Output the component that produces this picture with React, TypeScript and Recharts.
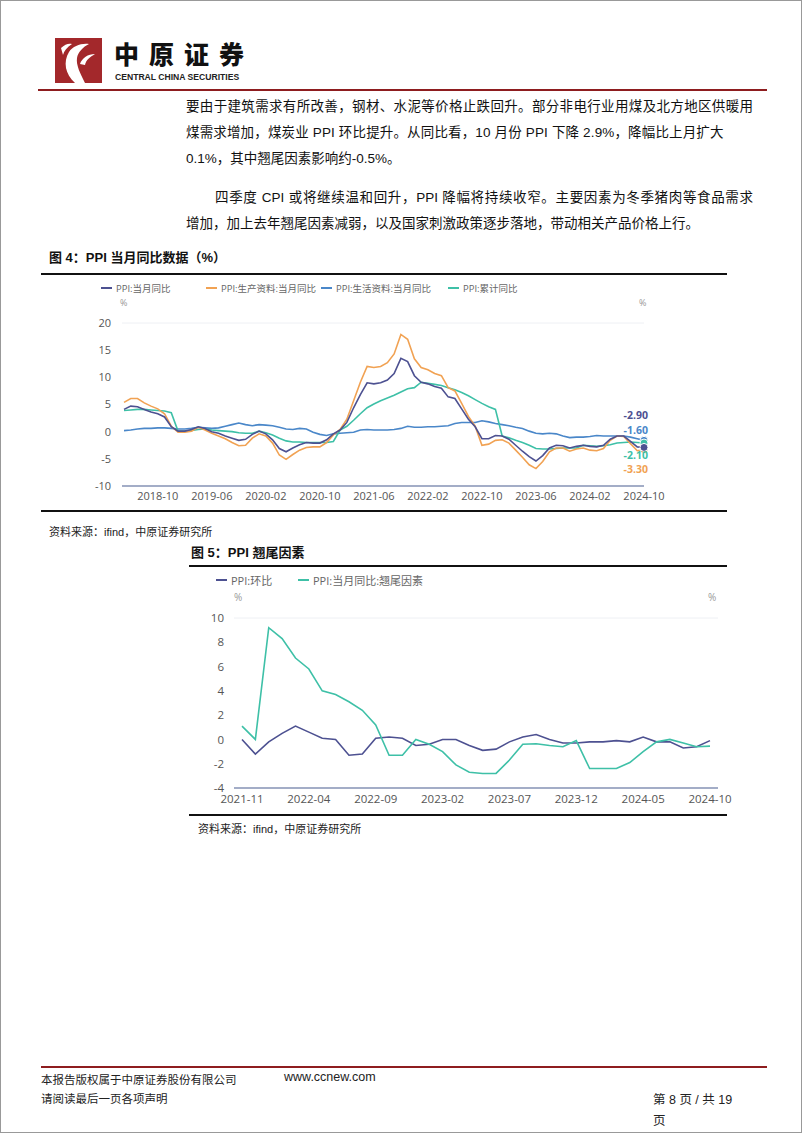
import React from 'react'
import { LineChart, Line, XAxis, YAxis, CartesianGrid } from 'recharts'

// 图4: PPI 当月同比, 2018-05 .. 2024-10
const months4: string[] = []
for (let y = 2018, m = 5; y < 2024 || (y === 2024 && m <= 10); m++) {
  if (m > 12) { m = 1; y++ }
  months4.push(`${y}-${String(m).padStart(2, '0')}`)
}
const ticks4 = ['2018-10', '2019-06', '2020-02', '2020-10', '2021-06', '2022-02', '2022-10', '2023-06', '2024-02', '2024-10']

const ppiYoy = [
  4.1, 4.7, 4.6, 4.1, 3.6, 3.3, 2.7, 0.9,
  0.1, 0.1, 0.4, 0.9, 0.6, 0.0, -0.3, -0.8, -1.2, -1.6, -1.4, -0.5,
  0.1, -0.4, -1.5, -3.1, -3.7, -3.0, -2.4, -2.0, -2.1, -2.1, -1.5, -0.4,
  0.3, 1.7, 4.4, 6.8, 9.0, 8.8, 9.0, 9.5, 10.7, 13.5, 12.9, 10.3,
  9.1, 8.8, 8.3, 8.0, 6.4, 6.1, 4.2, 2.3, 0.9, -1.3, -1.3, -0.7,
  -0.8, -1.4, -2.5, -3.6, -4.6, -5.4, -4.4, -3.0, -2.5, -2.6, -3.0, -2.7,
  -2.5, -2.7, -2.8, -2.5, -1.4, -0.8, -0.8, -1.8, -2.8, -2.9,
]
const producerYoy = [
  5.4, 6.1, 6.1, 5.3, 4.7, 4.2, 3.3, 1.0,
  -0.1, -0.1, 0.1, 0.8, 0.3, -0.3, -0.8, -1.3, -2.0, -2.6, -2.5, -1.2,
  -0.4, -0.8, -2.1, -4.3, -5.1, -4.2, -3.4, -2.9, -2.8, -2.8, -2.0, -0.6,
  0.4, 2.3, 5.7, 9.1, 12.0, 11.8, 12.0, 12.7, 14.3, 17.9, 17.0, 13.4,
  11.8, 11.4, 10.7, 10.3, 8.1, 7.5, 5.2, 2.8, 1.0, -2.5, -2.3, -1.6,
  -1.5, -2.1, -3.4, -4.7, -6.1, -6.8, -5.5, -3.7, -3.0, -3.0, -3.6, -3.2,
  -3.0, -3.4, -3.5, -3.1, -1.6, -0.8, -0.9, -2.2, -3.5, -3.3,
]
const consumerYoy = [
  0.2, 0.3, 0.5, 0.6, 0.6, 0.7, 0.7, 0.6,
  0.5, 0.5, 0.6, 0.8, 0.7, 0.6, 0.7, 1.0, 1.3, 1.6, 1.3, 1.1,
  1.3, 1.2, 1.1, 0.8, 0.5, 0.4, 0.6, 0.5, -0.1, -0.5, -0.7, -0.4,
  -0.3, -0.2, -0.1, 0.3, 0.4, 0.3, 0.3, 0.3, 0.4, 0.6, 1.0, 0.8,
  0.8, 0.9, 0.9, 1.0, 1.1, 1.5, 1.7, 1.7, 1.7, 2.0, 1.8, 1.5,
  1.3, 1.1, 0.8, 0.6, 0.1, -0.3, -0.4, -0.3, -0.4, -0.8, -1.1, -1.0,
  -1.0, -0.9, -0.7, -0.8, -0.8, -0.8, -0.8, -1.0, -1.3, -1.6,
]
const cumulativeYoy = [
  3.9, 4.0, 4.1, 4.1, 4.0, 3.9, 3.8, 3.5,
  0.1, 0.1, 0.2, 0.4, 0.5, 0.3, 0.2, 0.1, 0.0, -0.2, -0.3, -0.3,
  0.1, -0.2, -0.6, -1.2, -1.7, -1.9, -1.9, -2.0, -2.0, -2.0, -2.0, -1.8,
  0.3, 1.0, 2.1, 3.3, 4.4, 5.1, 5.7, 6.2, 6.7, 7.3, 7.9, 8.1,
  9.1, 8.9, 8.7, 8.5, 8.1, 7.7, 7.2, 6.6, 5.9, 5.2, 4.6, 4.1,
  -0.8, -1.1, -1.6, -2.0, -2.5, -3.1, -3.2, -3.2, -3.1, -3.0, -3.0, -3.0,
  -2.5, -2.6, -2.7, -2.6, -2.4, -2.1, -2.0, -1.9, -2.0, -2.1,
]

// 图5: PPI 翘尾因素, 2021-11 .. 2024-10
const months5: string[] = []
for (let y = 2021, m = 11; y < 2024 || (y === 2024 && m <= 10); m++) {
  if (m > 12) { m = 1; y++ }
  months5.push(`${y}-${String(m).padStart(2, '0')}`)
}
const ticks5 = ['2021-11', '2022-04', '2022-09', '2023-02', '2023-07', '2023-12', '2024-05', '2024-10']

const ppiMom = [
  0.0, -1.2,
  -0.2, 0.5, 1.1, 0.6, 0.1, 0.0, -1.3, -1.2, 0.1, 0.2, 0.1, -0.5,
  -0.4, 0.0, 0.0, -0.5, -0.9, -0.8, -0.2, 0.2, 0.4, 0.0, -0.3, -0.3,
  -0.2, -0.2, -0.1, -0.2, 0.2, -0.2, -0.2, -0.7, -0.6, -0.1,
]
const carryover = [
  1.1, 0.0,
  9.2, 8.3, 6.7, 5.8, 4.0, 3.7, 3.1, 2.4, 1.2, -1.3, -1.3, 0.0,
  -0.4, -1.0, -2.1, -2.7, -2.8, -2.8, -1.7, -0.4, -0.35, -0.5, -0.6, -0.1,
  -2.4, -2.4, -2.4, -1.9, -1.0, -0.2, 0.0, -0.3, -0.6, -0.55,
]

const data4 = months4.map((m, i) => ({
  month: m,
  ppi: ppiYoy[i],
  producer: producerYoy[i],
  consumer: consumerYoy[i],
  cumulative: cumulativeYoy[i],
}))
const data5 = months5.map((m, i) => ({ month: m, mom: ppiMom[i], carry: carryover[i] }))

const NAVY = '#4d5191'
const ORANGE = '#f1a253'
const BLUE = '#4a87c9'
const TEAL = '#3ec0a7'
const AXIS = '#8794b6'
const GRID = '#eef0f4'

const TEXT_FONT = '"Liberation Sans", Arial, "Noto Sans CJK SC", sans-serif'
const CHART_FONT = '"Open Sans", "Noto Sans CJK SC", sans-serif'

const last4 = data4.length - 1

function endDot(color: string) {
  return (p: any) =>
    p.index === last4 ? (
      <circle key={p.index} cx={p.cx} cy={p.cy} r={4} fill={color} stroke="#fff" strokeWidth={1} />
    ) : (
      <g key={p.index} />
    )
}

function endLabel(color: string, dy: number) {
  return (p: any) =>
    p.index === last4 ? (
      <text key={p.index} x={p.x + 4} y={p.y + dy} fill={color} fontSize={10.5} fontWeight={700}
        textAnchor="end" dominantBaseline="central" fontFamily={CHART_FONT}>
        {Number(p.value).toFixed(2)}
      </text>
    ) : (
      <g key={p.index} />
    )
}

function LegendItem({ x, y, color, label, size }: { x: number; y: number; color: string; label: string; size: number }) {
  return (
    <div style={{ position: 'absolute', left: x, top: y - size * 0.7, display: 'flex', alignItems: 'center', whiteSpace: 'nowrap', fontFamily: CHART_FONT, fontSize: size, color: '#666' }}>
      <span style={{ display: 'inline-block', width: 11, height: 2, background: color, marginRight: 4 }} />
      {label}
    </div>
  )
}

function Abs({ x, y, children, style }: { x: number; y: number; children: React.ReactNode; style?: React.CSSProperties }) {
  return <div style={{ position: 'absolute', left: x, top: y, whiteSpace: 'nowrap', ...style }}>{children}</div>
}

function Rule({ x, y, w, h, color }: { x: number; y: number; w: number; h: number; color: string }) {
  return <div style={{ position: 'absolute', left: x, top: y, width: w, height: h, background: color }} />
}

const tickStyle = { fill: '#555', fontSize: 11, fontFamily: CHART_FONT }

function Logo() {
  return (
    <svg style={{ position: 'absolute', left: 54, top: 37 }} width={47} height={45} viewBox="0 0 47 45">
      <rect x={0} y={0} width={47} height={45} fill="#a3282b" />
      <path d="M20 45 C10 36 8 24 14 14 C18 8 26 5 34 6 C28 9 23 14 22 20 C21 27 25 35 30 45 Z" fill="#fff" />
      <path d="M25 26 C27 20 33 16 40 16 C35 19 31 22 30 27 Z" fill="#fff" />
      <path d="M6 10 C10 6 14 5 17 6 C12 9 9 13 8 17 Z" fill="#fff" />
    </svg>
  )
}

export default function App() {
  const bodyText: React.CSSProperties = { fontFamily: TEXT_FONT, fontSize: 13.5, color: '#111' }
  const full: React.CSSProperties = { ...bodyText, width: 567, textAlign: 'justify', textAlignLast: 'justify' }
  return (
    <div style={{ position: 'relative', width: 800, height: 1131, border: '1px solid #999', background: '#fff', overflow: 'hidden' }}>
      <style>{`body{margin:0}`}</style>

      {/* header */}
      <Logo />
      <Abs x={113} y={39} style={{ fontFamily: '"Noto Sans CJK SC", sans-serif', fontSize: 25, lineHeight: '26px', fontWeight: 900, letterSpacing: 10, color: '#111' }}>中原证券</Abs>
      <Abs x={114} y={72} style={{ fontFamily: '"Liberation Sans", Arial, sans-serif', fontSize: 8.6, lineHeight: '9px', fontWeight: 700, color: '#222' }}>CENTRAL CHINA SECURITIES</Abs>
      <Rule x={37} y={88} w={729} h={2} color="#8e1d1f" />

      {/* body text */}
      <Abs x={185} y={94} style={full}>要由于建筑需求有所改善，钢材、水泥等价格止跌回升。部分非电行业用煤及北方地区供暖用</Abs>
      <Abs x={185} y={120} style={{ ...bodyText, letterSpacing: 0.15 }}>煤需求增加，煤炭业 PPI 环比提升。从同比看，10 月份 PPI 下降 2.9%，降幅比上月扩大</Abs>
      <Abs x={185} y={146} style={bodyText}>0.1%，其中翘尾因素影响约-0.5%。</Abs>
      <Abs x={214} y={185} style={{ ...full, width: 538 }}>四季度 CPI 或将继续温和回升，PPI 降幅将持续收窄。主要因素为冬季猪肉等食品需求</Abs>
      <Abs x={185} y={211} style={bodyText}>增加，加上去年翘尾因素减弱，以及国家刺激政策逐步落地，带动相关产品价格上行。</Abs>

      {/* figure 4 */}
      <Abs x={48} y={246} style={{ fontFamily: TEXT_FONT, fontSize: 13, fontWeight: 700, color: '#111' }}>图 4：PPI 当月同比数据（%）</Abs>
      <Rule x={40} y={272} w={686} h={2} color="#111" />
      <LegendItem x={100} y={287} color={NAVY} label="PPI:当月同比" size={9.5} />
      <LegendItem x={205} y={287} color={ORANGE} label="PPI:生产资料:当月同比" size={9.5} />
      <LegendItem x={320} y={287} color={BLUE} label="PPI:生活资料:当月同比" size={9.5} />
      <LegendItem x={447} y={287} color={TEAL} label="PPI:累计同比" size={9.5} />
      <Abs x={119} y={295} style={{ fontFamily: CHART_FONT, fontSize: 9, color: '#999' }}>%</Abs>
      <Abs x={638} y={295} style={{ fontFamily: CHART_FONT, fontSize: 9, color: '#999' }}>%</Abs>
      <div style={{ position: 'absolute', left: 60, top: 300 }}>
        <LineChart width={660} height={210} data={data4} margin={{ top: 22, right: 0, bottom: 0, left: 0 }}>
          <CartesianGrid vertical={false} stroke={GRID} />
          <XAxis dataKey="month" ticks={ticks4} interval={0} tickLine={false} tickSize={4} tickMargin={2}
            axisLine={{ stroke: AXIS, strokeWidth: 1.5 }} tick={tickStyle} height={25} padding={{ left: 2, right: 0 }} />
          <YAxis yAxisId="l" orientation="left" domain={[-10, 20]} ticks={[-10, -5, 0, 5, 10, 15, 20]}
            width={61} tickLine={false} axisLine={false} tickMargin={5} tick={tickStyle} />
          <YAxis yAxisId="r" orientation="right" domain={[-10, 20]} ticks={[-10, -5, 0, 5, 10, 15, 20]}
            width={77} tickLine={false} axisLine={false} tickMargin={3} tick={tickStyle} />
          <Line yAxisId="l" dataKey="consumer" stroke={BLUE} strokeWidth={1.6} dot={endDot(BLUE)} label={endLabel(BLUE, -10)} isAnimationActive={false} />
          <Line yAxisId="l" dataKey="cumulative" stroke={TEAL} strokeWidth={1.6} dot={endDot(TEAL)} label={endLabel(TEAL, 12)} isAnimationActive={false} />
          <Line yAxisId="l" dataKey="producer" stroke={ORANGE} strokeWidth={1.6} dot={endDot(ORANGE)} label={endLabel(ORANGE, 19)} isAnimationActive={false} />
          <Line yAxisId="l" dataKey="ppi" stroke={NAVY} strokeWidth={1.6} dot={endDot(NAVY)} label={endLabel(NAVY, -32)} isAnimationActive={false} />
        </LineChart>
      </div>
      <Rule x={40} y={509} w={686} h={1.5} color="#111" />
      <Abs x={48} y={522} style={{ fontFamily: TEXT_FONT, fontSize: 11, color: '#222' }}>资料来源：ifind，中原证券研究所</Abs>

      {/* figure 5 */}
      <Abs x={190} y={541} style={{ fontFamily: TEXT_FONT, fontSize: 13, fontWeight: 700, color: '#111' }}>图 5：PPI 翘尾因素</Abs>
      <Rule x={188} y={564} w={538} h={2} color="#111" />
      <LegendItem x={215} y={579} color={NAVY} label="PPI:环比" size={11} />
      <LegendItem x={297} y={579} color={TEAL} label="PPI:当月同比:翘尾因素" size={11} />
      <Abs x={233} y={589} style={{ fontFamily: CHART_FONT, fontSize: 10, color: '#999' }}>%</Abs>
      <Abs x={707} y={589} style={{ fontFamily: CHART_FONT, fontSize: 10, color: '#999' }}>%</Abs>
      <div style={{ position: 'absolute', left: 180, top: 600 }}>
        <LineChart width={580} height={212} data={data5} margin={{ top: 17, right: 0, bottom: 0, left: 0 }}>
          <CartesianGrid vertical={false} stroke={GRID} />
          <XAxis dataKey="month" ticks={ticks5} interval={0} tickLine={false} tickSize={4} tickMargin={3}
            axisLine={{ stroke: AXIS, strokeWidth: 1.5 }} tick={{ ...tickStyle, fontSize: 11.5 }} height={25} padding={{ left: 8, right: 8 }} />
          <YAxis yAxisId="l" orientation="left" domain={[-4, 10]} ticks={[-4, -2, 0, 2, 4, 6, 8, 10]}
            width={53} tickLine={false} axisLine={false} tickMargin={4} tick={{ ...tickStyle, fontSize: 11.5 }} />
          <YAxis yAxisId="r" orientation="right" domain={[-4, 10]} ticks={[-4, -2, 0, 2, 4, 6, 8, 10]}
            width={43} tickLine={false} axisLine={false} tick={{ ...tickStyle, fontSize: 11.5 }} />
          <Line yAxisId="l" dataKey="mom" stroke={NAVY} strokeWidth={1.6} dot={false} isAnimationActive={false} />
          <Line yAxisId="l" dataKey="carry" stroke={TEAL} strokeWidth={1.6} dot={false} isAnimationActive={false} />
        </LineChart>
      </div>
      <Rule x={188} y={813} w={538} h={1.5} color="#111" />
      <Abs x={197} y={819} style={{ fontFamily: TEXT_FONT, fontSize: 11, color: '#222' }}>资料来源：ifind，中原证券研究所</Abs>

      {/* footer */}
      <Rule x={40} y={1065} w={726} h={2} color="#8e1d1f" />
      <Abs x={40} y={1070} style={{ fontFamily: TEXT_FONT, fontSize: 11.5, color: '#222' }}>本报告版权属于中原证券股份有限公司</Abs>
      <Abs x={283} y={1069} style={{ fontFamily: TEXT_FONT, fontSize: 12.5, color: '#222' }}>www.ccnew.com</Abs>
      <Abs x={40} y={1089} style={{ fontFamily: TEXT_FONT, fontSize: 11.5, color: '#222' }}>请阅读最后一页各项声明</Abs>
      <Abs x={652} y={1088} style={{ fontFamily: TEXT_FONT, fontSize: 12.5, color: '#222' }}>第 8 页 / 共 19</Abs>
      <Abs x={652} y={1109} style={{ fontFamily: TEXT_FONT, fontSize: 12.5, color: '#222' }}>页</Abs>
    </div>
  )
}
